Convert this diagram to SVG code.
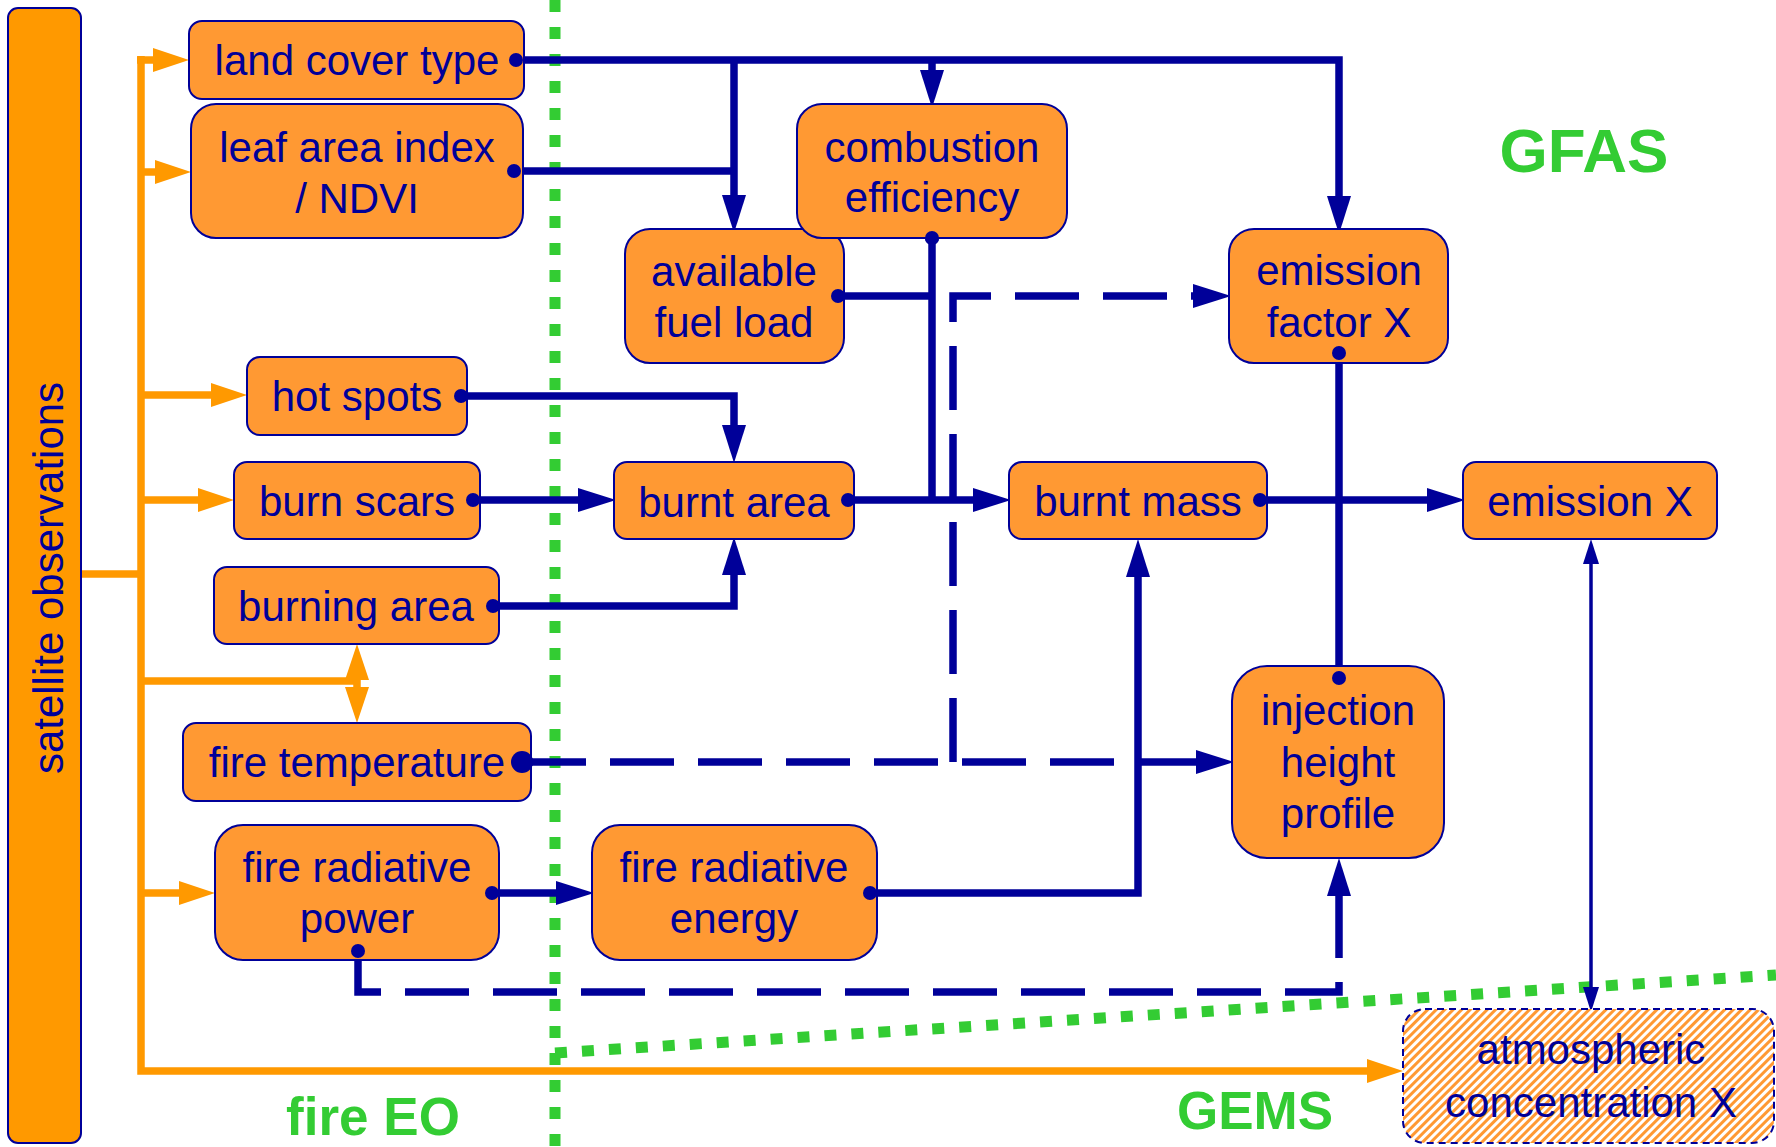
<svg xmlns="http://www.w3.org/2000/svg" width="1776" height="1147" viewBox="0 0 1776 1147">
<style>
.node rect{fill:#ff9933;stroke:#000099;stroke-width:2}
.node text{font-family:"Liberation Sans",Arial,sans-serif;font-size:42px;fill:#000099;text-anchor:middle}
.b{fill:none;stroke:#000099;stroke-width:7.5}
.d{fill:none;stroke:#000099;stroke-width:7.5;stroke-dasharray:64 24}
.o{fill:none;stroke:#ff9900;stroke-width:7.5}
.dot{fill:#000099}
.region{font-family:"Liberation Sans",Arial,sans-serif;font-weight:bold;fill:#33cc33;text-anchor:middle}
.green{fill:none;stroke:#33cc33;stroke-width:11;stroke-dasharray:12 15}
</style>
<defs>
<marker id="ab" markerUnits="userSpaceOnUse" markerWidth="38" markerHeight="24" refX="0" refY="12" orient="auto" overflow="visible"><path d="M0,0 L38,12 L0,24 z" fill="#000099"/></marker>
<marker id="ao" markerUnits="userSpaceOnUse" markerWidth="36" markerHeight="24" refX="0" refY="12" orient="auto" overflow="visible"><path d="M0,0 L36,12 L0,24 z" fill="#ff9900"/></marker>
<marker id="as" markerUnits="userSpaceOnUse" markerWidth="25" markerHeight="16" refX="0" refY="8" orient="auto-start-reverse" overflow="visible"><path d="M0,0 L25,8 L0,16 z" fill="#000099"/></marker>
<pattern id="hatch" patternUnits="userSpaceOnUse" width="6" height="6" patternTransform="rotate(45)"><rect width="6" height="6" fill="#ffffff"/><rect width="3" height="6" fill="#ff9933"/></pattern>
</defs>
<rect width="1776" height="1147" fill="#ffffff"/>

<g id="regions">
<path class="green" d="M555,0 V1147"/>
<path class="green" d="M555,1053 L1776,975"/>
<text class="region" x="1584" y="172" font-size="62">GFAS</text>
<text class="region" x="1255" y="1129" font-size="53">GEMS</text>
<text class="region" x="373" y="1135" font-size="53">fire EO</text>
</g>

<g id="connectors">
<!-- orange -->
<path class="o" d="M141,56 V1071 H1367" marker-end="url(#ao)"/>
<path class="o" d="M137,60 H153" marker-end="url(#ao)"/>
<path class="o" d="M141,172 H155" marker-end="url(#ao)"/>
<path class="o" d="M141,395 H211" marker-end="url(#ao)"/>
<path class="o" d="M141,500 H198" marker-end="url(#ao)"/>
<path class="o" d="M141,893 H179" marker-end="url(#ao)"/>
<path class="o" d="M80,574 H141" stroke-width="12"/>
<path class="o" d="M141,681 H357"/>
<path class="o" d="M357,681 V680" marker-end="url(#ao)"/>
<path class="o" d="M357,681 V687" marker-end="url(#ao)"/>
<!-- blue solid -->
<path class="b" d="M516,60 H1339 V196" marker-end="url(#ab)"/>
<path class="b" d="M734,60 V195" marker-end="url(#ab)"/>
<path class="b" d="M932,60 V70" marker-end="url(#ab)"/>
<path class="b" d="M514,171 H734"/>
<path class="b" d="M461,396 H734 V425" marker-end="url(#ab)"/>
<path class="b" d="M473,500 H578" marker-end="url(#ab)"/>
<path class="b" d="M493,606 H734 V575" marker-end="url(#ab)"/>
<path class="b" d="M848,500 H973" marker-end="url(#ab)"/>
<path class="b" d="M932,238 V500"/>
<path class="b" d="M838,296 H932"/>
<path class="b" d="M1260,500 H1427" marker-end="url(#ab)"/>
<path class="b" d="M1339,353 V678"/>
<path class="b" d="M492,893 H556" marker-end="url(#ab)"/>
<path class="b" d="M870,893 H1138 V577" marker-end="url(#ab)"/>
<path class="b" d="M1138,762 H1196" marker-end="url(#ab)"/>
<!-- blue dashed -->
<path class="d" d="M522,762 H1138"/>
<path class="d" d="M953,762 V296 H1193" marker-end="url(#ab)"/>
<path class="d" d="M358,951 V992 H1339 V896" marker-end="url(#ab)"/>
<!-- thin double arrow -->
<path fill="none" stroke="#000099" stroke-width="3.5" d="M1591,564 V987" marker-start="url(#as)" marker-end="url(#as)"/>
<!-- dots -->
<circle class="dot" cx="516" cy="60" r="7"/>
<circle class="dot" cx="514" cy="171" r="7"/>
<circle class="dot" cx="461" cy="396" r="7"/>
<circle class="dot" cx="473" cy="500" r="7"/>
<circle class="dot" cx="493" cy="606" r="7"/>
<circle class="dot" cx="522" cy="762" r="11"/>
<circle class="dot" cx="492" cy="893" r="7"/>
<circle class="dot" cx="358" cy="951" r="7"/>
<circle class="dot" cx="870" cy="893" r="7"/>
<circle class="dot" cx="848" cy="500" r="7"/>
<circle class="dot" cx="932" cy="238" r="7"/>
<circle class="dot" cx="838" cy="296" r="7"/>
<circle class="dot" cx="1260" cy="500" r="7"/>
<circle class="dot" cx="1339" cy="353" r="7"/>
<circle class="dot" cx="1339" cy="678" r="7"/>
</g>

<g id="satellite-observations" class="node">
<rect x="8" y="8" width="73" height="1135" rx="10" style="fill:#ff9900"/>
<text transform="translate(63,578) rotate(-90)">satellite observations</text>
</g>
<g id="land-cover-type" class="node"><rect x="189" y="21" width="335" height="78" rx="13"/><text x="357" y="75">land cover type</text></g>
<g id="leaf-area-index" class="node"><rect x="191" y="104" width="332" height="134" rx="25"/><text x="357" y="162">leaf area index</text><text x="357" y="213">/ NDVI</text></g>
<g id="hot-spots" class="node"><rect x="247" y="357" width="220" height="78" rx="13"/><text x="357" y="411">hot spots</text></g>
<g id="burn-scars" class="node"><rect x="234" y="462" width="246" height="77" rx="13"/><text x="357" y="516">burn scars</text></g>
<g id="burning-area" class="node"><rect x="214" y="567" width="285" height="77" rx="13"/><text x="356" y="621">burning area</text></g>
<g id="fire-temperature" class="node"><rect x="183" y="723" width="348" height="78" rx="13"/><text x="357" y="777">fire temperature</text></g>
<g id="fire-radiative-power" class="node"><rect x="215" y="825" width="284" height="135" rx="28"/><text x="357" y="882">fire radiative</text><text x="357" y="933">power</text></g>
<g id="fire-radiative-energy" class="node"><rect x="592" y="825" width="285" height="135" rx="28"/><text x="734" y="882">fire radiative</text><text x="734" y="933">energy</text></g>
<g id="available-fuel-load" class="node"><rect x="625" y="229" width="219" height="134" rx="25"/><text x="734" y="286">available</text><text x="734" y="337">fuel load</text></g>
<g id="combustion-efficiency" class="node"><rect x="797" y="104" width="270" height="134" rx="25"/><text x="932" y="162">combustion</text><text x="932" y="212">efficiency</text></g>
<g id="burnt-area" class="node"><rect x="614" y="462" width="240" height="77" rx="13"/><text x="734" y="517">burnt area</text></g>
<g id="burnt-mass" class="node"><rect x="1009" y="462" width="258" height="77" rx="13"/><text x="1138" y="516">burnt mass</text></g>
<g id="emission-factor-x" class="node"><rect x="1229" y="229" width="219" height="134" rx="25"/><text x="1339" y="285">emission</text><text x="1339" y="337">factor X</text></g>
<g id="emission-x" class="node"><rect x="1463" y="462" width="254" height="77" rx="13"/><text x="1590" y="516">emission X</text></g>
<g id="injection-height-profile" class="node"><rect x="1232" y="666" width="212" height="192" rx="35"/><text x="1338" y="725">injection</text><text x="1338" y="777">height</text><text x="1338" y="828">profile</text></g>
<g id="atmospheric-concentration-x" class="node"><rect x="1403" y="1009" width="371" height="134" rx="22" style="fill:url(#hatch);stroke-dasharray:7 5"/><text x="1591" y="1064">atmospheric</text><text x="1591" y="1117">concentration X</text></g>

<!-- redraw dots on top of nodes -->
<g id="endpoints">
<circle class="dot" cx="516" cy="60" r="7"/>
<circle class="dot" cx="514" cy="171" r="7"/>
<circle class="dot" cx="461" cy="396" r="7"/>
<circle class="dot" cx="473" cy="500" r="7"/>
<circle class="dot" cx="493" cy="606" r="7"/>
<circle class="dot" cx="522" cy="762" r="11"/>
<circle class="dot" cx="492" cy="893" r="7"/>
<circle class="dot" cx="358" cy="951" r="7"/>
<circle class="dot" cx="870" cy="893" r="7"/>
<circle class="dot" cx="848" cy="500" r="7"/>
<circle class="dot" cx="932" cy="238" r="7"/>
<circle class="dot" cx="838" cy="296" r="7"/>
<circle class="dot" cx="1260" cy="500" r="7"/>
<circle class="dot" cx="1339" cy="353" r="7"/>
<circle class="dot" cx="1339" cy="678" r="7"/>
</g>
</svg>
